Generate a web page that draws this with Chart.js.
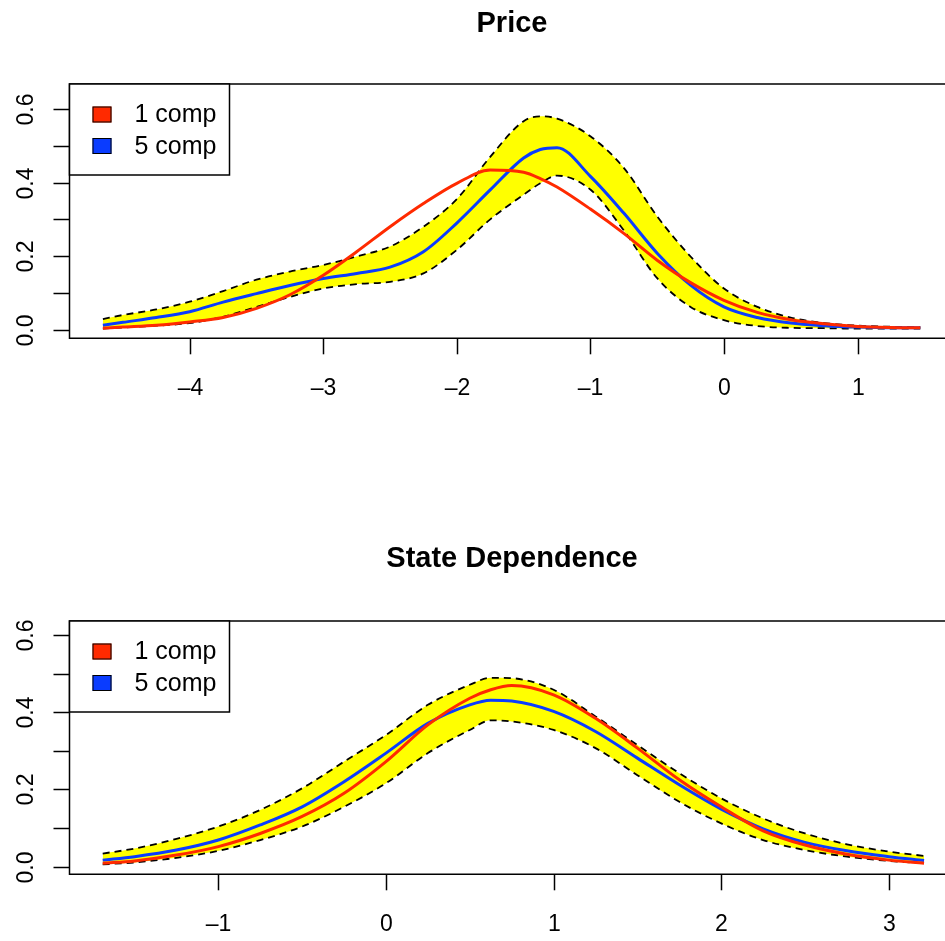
<!DOCTYPE html>
<html>
<head>
<meta charset="utf-8">
<script src="https://cdn.jsdelivr.net/npm/chart.js@4.4.0/dist/chart.umd.min.js"></script>
<style>
    html, body { margin: 0; padding: 0; background: #fff; overflow: hidden; }
    .panel { position: absolute; left: 0; }
    #priceWrap { top: 0; }
    #stateWrap { top: 470px; }
</style>
</head>
<body>
<div class="panel" id="priceWrap"><canvas id="priceChart" width="945" height="470"></canvas></div>
<div class="panel" id="stateWrap"><canvas id="stateChart" width="945" height="471"></canvas></div>
<script>
// Price panel data
const priceX = [-4.65, -4.5, -4.25, -4, -3.75, -3.5, -3.25, -3, -2.75, -2.5, -2.25, -2, -1.75, -1.5, -1.375, -1.25, -1, -0.75, -0.5, -0.25, 0, 0.25, 0.5, 0.75, 1, 1.25, 1.47];
const priceOneComp = [0.004, 0.007, 0.012, 0.021, 0.033, 0.058, 0.095, 0.148, 0.212, 0.28, 0.343, 0.398, 0.434, 0.428, 0.411, 0.388, 0.328, 0.262, 0.189, 0.128, 0.08, 0.047, 0.027, 0.016, 0.009, 0.006, 0.005];
const priceFiveComp = [0.012, 0.02, 0.033, 0.049, 0.075, 0.098, 0.12, 0.139, 0.153, 0.17, 0.212, 0.29, 0.38, 0.467, 0.49, 0.495, 0.417, 0.317, 0.208, 0.121, 0.062, 0.033, 0.018, 0.011, 0.007, 0.005, 0.005];
const priceUpper = [0.029, 0.04, 0.055, 0.076, 0.105, 0.136, 0.158, 0.176, 0.199, 0.226, 0.28, 0.355, 0.47, 0.567, 0.58, 0.574, 0.526, 0.44, 0.308, 0.199, 0.112, 0.062, 0.033, 0.018, 0.011, 0.008, 0.007];
const priceLower = [0.003, 0.006, 0.011, 0.018, 0.035, 0.062, 0.089, 0.112, 0.124, 0.13, 0.153, 0.217, 0.30, 0.367, 0.398, 0.419, 0.381, 0.27, 0.14, 0.062, 0.026, 0.010, 0.005, 0.004, 0.003, 0.003, 0.003];
const priceXTicks = [-4, -3, -2, -1, 0, 1];

// State Dependence panel data
const stateX = [-1.69, -1.5, -1.25, -1, -0.75, -0.5, -0.25, 0, 0.25, 0.5, 0.625, 0.75, 1, 1.25, 1.5, 1.75, 2, 2.25, 2.5, 2.75, 3, 3.21];
const stateOneComp = [0.009, 0.015, 0.030, 0.052, 0.086, 0.130, 0.19, 0.272, 0.367, 0.436, 0.458, 0.469, 0.445, 0.384, 0.307, 0.225, 0.155, 0.093, 0.056, 0.032, 0.017, 0.009];
const stateFiveComp = [0.017, 0.026, 0.043, 0.069, 0.108, 0.155, 0.22, 0.294, 0.371, 0.419, 0.431, 0.429, 0.402, 0.35, 0.281, 0.212, 0.149, 0.098, 0.063, 0.041, 0.026, 0.016];
const stateUpper = [0.034, 0.047, 0.072, 0.104, 0.147, 0.203, 0.272, 0.341, 0.419, 0.471, 0.489, 0.488, 0.458, 0.389, 0.315, 0.242, 0.177, 0.125, 0.086, 0.058, 0.039, 0.028];
const stateLower = [0.006, 0.011, 0.023, 0.041, 0.069, 0.104, 0.155, 0.216, 0.294, 0.354, 0.379, 0.376, 0.354, 0.307, 0.237, 0.168, 0.112, 0.069, 0.043, 0.026, 0.015, 0.009];
const stateXTicks = [-1, 0, 1, 2, 3];

const yTicks = [0, 0.1, 0.2, 0.3, 0.4, 0.5, 0.6];
const yLabels = ['0.0', '', '0.2', '', '0.4', '', '0.6'];
const legendLabels = ['1 comp', '5 comp'];

const RED = '#ff2a00';
const BLUE = '#0a3cff';
const YELLOW = '#ffff00';
const FONT = '"Liberation Sans", Arial, Helvetica, sans-serif';

function toPoints(xs, ys) {
    return xs.map(function(x, i) { return { x: x, y: ys[i] }; });
}

function fmtTick(v) {
    return v < 0 ? '\u2013' + Math.abs(v) : String(v);
}

// R-style box, ticks, labels, title and legend
const baseGraphics = {
    id: 'baseGraphics',
    afterDraw: function(chart) {
        const ctx = chart.ctx;
        const area = chart.chartArea;
        const xs = chart.scales.x;
        const ys = chart.scales.y;
        const o = chart.options.plugins.baseGraphics;

        ctx.save();
        ctx.strokeStyle = '#000';
        ctx.fillStyle = '#000';
        ctx.lineWidth = 1.5;

        // plot box (right side runs off the page)
        ctx.beginPath();
        ctx.moveTo(area.right + 2, area.top);
        ctx.lineTo(area.left, area.top);
        ctx.lineTo(area.left, area.bottom);
        ctx.lineTo(area.right + 2, area.bottom);
        ctx.stroke();

        // x axis
        ctx.font = '23px ' + FONT;
        ctx.textAlign = 'center';
        ctx.textBaseline = 'alphabetic';
        o.xTicks.forEach(function(v) {
            const px = Math.round(xs.getPixelForValue(v)) + 0.5;
            ctx.beginPath();
            ctx.moveTo(px, area.bottom);
            ctx.lineTo(px, area.bottom + 16);
            ctx.stroke();
            ctx.fillText(fmtTick(v), px, area.bottom + 57);
        });

        // y axis
        yTicks.forEach(function(v, i) {
            const py = Math.round(ys.getPixelForValue(v)) + 0.5;
            ctx.beginPath();
            ctx.moveTo(area.left - 16, py);
            ctx.lineTo(area.left, py);
            ctx.stroke();
            if (yLabels[i]) {
                ctx.save();
                ctx.translate(33, py);
                ctx.rotate(-Math.PI / 2);
                ctx.fillText(yLabels[i], 0, 0);
                ctx.restore();
            }
        });

        // title
        ctx.font = 'bold 29px ' + FONT;
        ctx.fillText(o.title, 512, o.titleY);

        // legend
        const lx = area.left, ly = area.top;
        ctx.fillStyle = '#fff';
        ctx.fillRect(lx, ly, 160, 91);
        ctx.strokeRect(lx, ly, 160, 91);
        [RED, BLUE].forEach(function(col, i) {
            const cy = ly + 30.5 + i * 31.5;
            ctx.fillStyle = col;
            ctx.fillRect(lx + 23, cy - 8, 19, 16);
            ctx.lineWidth = 1;
            ctx.strokeRect(lx + 23.5, cy - 7.5, 18, 15);
            ctx.fillStyle = '#000';
            ctx.font = '25px ' + FONT;
            ctx.textAlign = 'left';
            ctx.textBaseline = 'middle';
            ctx.fillText(legendLabels[i], lx + 65, cy + 1);
        });
        ctx.restore();
    }
};

function makePanel(canvasId, opts) {
    const ctx = document.getElementById(canvasId).getContext('2d');
    const lineBase = {
        pointRadius: 0,
        cubicInterpolationMode: 'monotone',
        fill: false
    };
    return new Chart(ctx, {
        type: 'line',
        data: {
            datasets: [
                Object.assign({}, lineBase, {
                    label: legendLabels[0],
                    data: toPoints(opts.x, opts.one),
                    borderColor: RED,
                    borderWidth: 3
                }),
                Object.assign({}, lineBase, {
                    label: legendLabels[1],
                    data: toPoints(opts.x, opts.five),
                    borderColor: BLUE,
                    borderWidth: 3
                }),
                Object.assign({}, lineBase, {
                    label: 'upper',
                    data: toPoints(opts.x, opts.upper),
                    borderColor: '#000',
                    borderWidth: 1.8,
                    borderDash: [7, 5],
                    backgroundColor: YELLOW,
                    fill: '+1'
                }),
                Object.assign({}, lineBase, {
                    label: 'lower',
                    data: toPoints(opts.x, opts.lower),
                    borderColor: '#000',
                    borderWidth: 1.8,
                    borderDash: [7, 5]
                })
            ]
        },
        options: {
            responsive: false,
            animation: false,
            layout: {
                padding: opts.padding
            },
            plugins: {
                legend: { display: false },
                tooltip: { enabled: false },
                filler: { drawTime: 'beforeDatasetsDraw' },
                baseGraphics: {
                    title: opts.title,
                    titleY: opts.titleY,
                    xTicks: opts.xTicks
                }
            },
            scales: {
                x: {
                    type: 'linear',
                    display: false,
                    min: opts.xMin,
                    max: opts.xMax
                },
                y: {
                    type: 'linear',
                    display: false,
                    min: opts.yMin,
                    max: opts.yMax
                }
            }
        },
        plugins: [baseGraphics]
    });
}

document.addEventListener('DOMContentLoaded', function() {
    makePanel('priceChart', {
        x: priceX,
        one: priceOneComp,
        five: priceFiveComp,
        upper: priceUpper,
        lower: priceLower,
        xTicks: priceXTicks,
        title: 'Price',
        titleY: 31.5,
        padding: { left: 69.5, top: 84, right: 0, bottom: 131.7 },
        xMin: -4.9, xMax: 1.655,
        yMin: -0.0234, yMax: 0.668
    });

    makePanel('stateChart', {
        x: stateX,
        one: stateOneComp,
        five: stateFiveComp,
        upper: stateUpper,
        lower: stateLower,
        xTicks: stateXTicks,
        title: 'State Dependence',
        titleY: 96.7,
        padding: { left: 69.5, top: 151, right: 0, bottom: 66.7 },
        xMin: -1.888, xMax: 3.335,
        yMin: -0.0197, yMax: 0.636
    });
});
</script>
</body>
</html>
